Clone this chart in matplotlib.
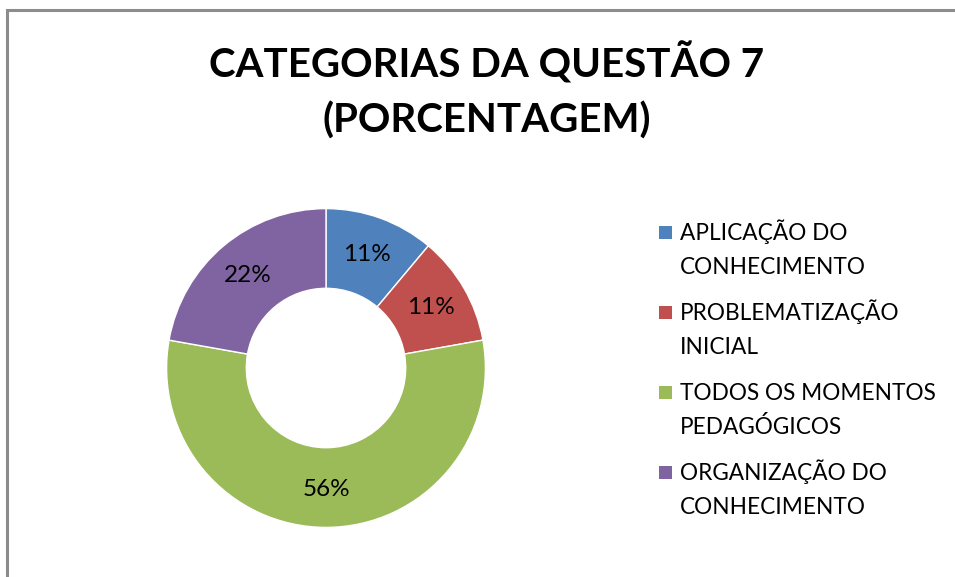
import matplotlib.pyplot as plt
from matplotlib.patches import Rectangle

# categorias da questao 7 (porcentagem)
categorias = ['APLICAÇÃO DO\nCONHECIMENTO', 'PROBLEMATIZAÇÃO\nINICIAL',
              'TODOS OS MOMENTOS\nPEDAGÓGICOS', 'ORGANIZAÇÃO DO\nCONHECIMENTO']
valores = [11.1, 11.1, 55.6, 22.2]
cores = ['#4F81BD', '#C0504D', '#9BBB59', '#8064A2']

W, H = 955, 577
fig = plt.figure(figsize=(W / 100, H / 100), dpi=100)
fig.patch.set_facecolor('white')

# moldura cinza
fig.patches.append(Rectangle((7 / W, -0.1), 1.2, 1 - 10 / H + 0.1, transform=fig.transFigure,
                             fill=False, edgecolor='#8c8c8c', linewidth=2.2))

fig.text(487 / W, 1 - 63 / H, 'CATEGORIAS DA QUESTÃO 7', ha='center', va='center',
         fontsize=29, fontweight='bold', family='Lato')
fig.text(487 / W, 1 - 121 / H, '(PORCENTAGEM)', ha='center', va='center',
         fontsize=29, fontweight='bold', family='Lato')

cx, cy, r = 326, 368, 161
ax = fig.add_axes([(cx - r) / W, (H - cy - r) / H, 2 * r / W, 2 * r / H])
wedges, texts, autotexts = ax.pie(valores, colors=cores, startangle=90, counterclock=False,
                                  autopct='%.0f%%', pctdistance=0.76,
                                  wedgeprops=dict(width=0.5, edgecolor='white', linewidth=1),
                                  textprops=dict(fontsize=17.5, family='Lato', color='black'))
ax.set_xlim(-1.01, 1.01)
ax.set_ylim(-1.01, 1.01)
ax.axis('off')

# legenda
y0 = 232
for i, (lab, c) in enumerate(zip(categorias, cores)):
    y = y0 + i * 80
    fig.patches.append(Rectangle((659 / W, 1 - (y + 7) / H), 13 / W, 13 / H,
                                 transform=fig.transFigure, facecolor=c, edgecolor='none'))
    for j, linha in enumerate(lab.split('\n')):
        fig.text(680 / W, 1 - (y + 8 + j * 33.5) / H, linha, ha='left', va='baseline',
                 fontsize=16.3, family='Lato')

fig.savefig('out.png', dpi=100, facecolor='white')
